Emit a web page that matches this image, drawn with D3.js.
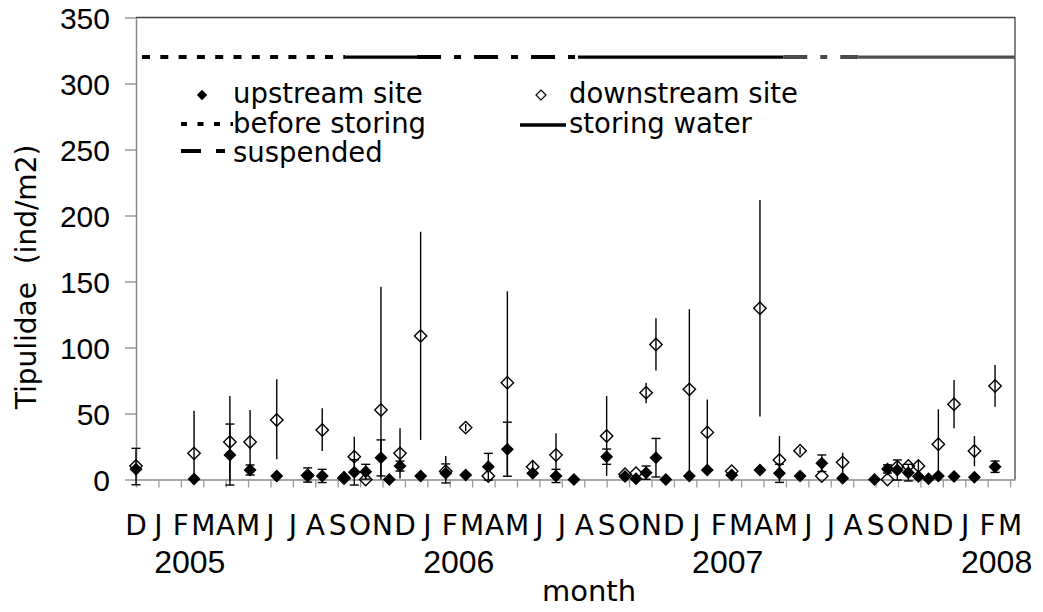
<!DOCTYPE html>
<html>
<head>
<meta charset="utf-8">
<script src="https://cdn.jsdelivr.net/npm/d3@7"></script>
<style>
  html, body { margin: 0; padding: 0; background: #fff; }
  svg { display: block; }
</style>
</head>
<body>
<svg id="chart" width="1043" height="612"></svg>
<script>
// ---- data (x = months since 1 Dec 2004, fractional) ----
const monthLetters = ["D","J","F","M","A","M","J","J","A","S","O","N",
                      "D","J","F","M","A","M","J","J","A","S","O","N",
                      "D","J","F","M","A","M","J","J","A","S","O","N",
                      "D","J","F","M"];
const yearLabels = ["2005","2006","2007","2008"];
const yTicks = [0, 50, 100, 150, 200, 250, 300, 350];

// upstream site (filled diamonds, capped error bars)
const upMonth = [0.00, 2.59, 4.19, 5.09, 6.28, 7.66, 8.31, 9.28, 9.74, 10.25, 10.93, 11.30, 11.78, 12.70,
                 13.82, 14.71, 15.72, 16.57, 17.70, 18.74, 19.54, 21.00, 21.82, 22.31, 22.76, 23.20, 23.64,
                 24.69, 25.49, 26.58, 27.84, 28.71, 29.63, 30.60, 31.53, 32.95, 33.53, 33.97, 34.46, 34.91,
                 35.36, 35.80, 36.50, 37.41, 38.33];
const upVal   = [7.7, 0.4, 18.6, 7.2, 2.7, 3.4, 2.7, 1.7, 5.4, 5.9, 16.5, 0, 10.2, 2.7,
                 4.7, 3.4, 9.7, 22.9, 4.7, 2.7, 0, 17.3, 2.2, 0.5, 5.2, 16.5, 0,
                 2.7, 7.2, 3.4, 7.2, 4.7, 2.7, 12.3, 1.0, 0, 8.0, 7.2, 5.2, 2.2,
                 0.5, 2.7, 2.2, 1.7, 9.7];
const upLo    = [-4, null, -4.2, 3.4, null, -2, -2.3, null, -4.2, 0.3, 2.7, null, 6.4, null,
                 -2.6, null, -0.4, 2.5, null, -2.3, null, 11.5, null, null, 0.2, 1.9, null,
                 null, null, null, null, -2.2, null, 6.0, null, null, 4.9, -0.4, -1.1, null,
                 null, null, null, null, 5.4];
const upHi    = [23.6, null, 42.0, 11.0, null, 8.8, 7.7, null, 15.0, 11.5, 30.0, null, 14.0, null,
                 11.8, null, 19.8, 43.4, null, 7.7, null, 23.1, null, null, 10.2, 31.1, null,
                 null, null, null, null, 11.6, null, 18.6, null, null, 11.1, 14.8, 11.5, null,
                 null, null, null, null, 14.0];

// downstream site (open diamonds, uncapped error bars)
const downMonth = [0.00, 2.59, 4.19, 5.09, 6.28, 7.66, 8.31, 9.28, 9.74, 10.25, 10.93, 11.78, 12.70,
                   13.82, 14.71, 15.72, 16.57, 17.70, 18.74, 21.00, 21.82, 22.31, 22.76, 23.20, 24.69,
                   25.49, 26.58, 27.84, 28.71, 29.63, 30.60, 31.53, 33.53, 33.97, 34.46, 34.91, 35.80,
                   36.50, 37.41, 38.33];
const downVal   = [10.2, 19.8, 28.4, 28.4, 45.1, 3.0, 37.5, 1.0, 17.3, 0, 52.7, 19.8, 108.8,
                   6.3, 39.3, 2.7, 73.3, 9.7, 18.6, 33.0, 4.0, 4.7, 65.8, 102.3, 68.3,
                   35.7, 6.3, 129.7, 14.8, 21.8, 2.7, 13.0, 0, 9.7, 10.2, 10.2, 26.7,
                   57.0, 21.6, 70.8];
const downLo    = [null, 0, 0, 4.0, 15.3, null, 21.6, null, 2.3, null, 0, 0.8, 30.0,
                   0, 36.5, null, 3.0, 4.7, 2.2, 2.7, null, null, 57.7, 82.5, 5.0,
                   10.7, null, 47.7, 0, 19.0, null, 5.7, null, 5.0, null, 6.0, 0.2,
                   38.8, 10.0, 55.2];
const downHi    = [null, 52.1, 63.3, 52.7, 75.9, null, 53.9, null, 32.4, null, 146.0, 38.8, 187.7,
                   17.8, 42.0, null, 142.5, 14.8, 35.0, 63.3, null, null, 73.3, 122.1, 129.0,
                   60.7, null, 211.7, 33.0, 24.5, null, 20.3, null, 14.0, null, 14.0, 53.2,
                   75.4, 33.0, 86.7];

// reservoir phases drawn as a line at 320
const phaseLevel = 320;
const phaseType  = ["before", "storing", "suspended", "storing", "suspended", "storing"];
const phaseStart = [0.00, 9.33, 12.54, 19.72, 28.88, 32.23];
const phaseEnd   = [9.33, 12.54, 19.72, 28.88, 32.23, 39.22];
const phaseShade = ["#000", "#000", "#000", "#000", "#4a4a4a", "#4f4f4f"];

// ---- drawing ----
const svg = d3.select("#chart");
const x = d3.scaleLinear().domain([0, 39.22]).range([136, 1015]);
const y = d3.scaleLinear().domain([0, 350]).range([479.5, 17.5]);

const TEXT_FONT = "'DejaVu Sans', sans-serif";
const NUM_FONT = "'Liberation Sans', Arial, sans-serif";
const dashFor = { before: "8,10.3", storing: null, suspended: "24,13,7,13" };

function diamond(r) { return `M0,${-r}L${r},0L0,${r}L${-r},0Z`; }

// frame (top/right)
svg.append("path")
  .attr("d", `M${x(0)},${y(350)}H${x(39.22)}V${y(0)}`)
  .attr("fill", "none").attr("stroke", "#444").attr("stroke-width", 1.3);

// y axis
const yAxis = svg.append("g").attr("transform", `translate(${x(0)},0)`)
  .call(d3.axisLeft(y).tickValues(yTicks).tickSize(11).tickPadding(15).tickSizeOuter(0));
yAxis.select(".domain").attr("stroke", "#8a8a8a").attr("stroke-width", 1.5);
yAxis.selectAll(".tick line").attr("stroke", "#8a8a8a").attr("stroke-width", 1.3);
yAxis.selectAll(".tick text")
  .attr("font-family", NUM_FONT).attr("font-size", 30).attr("fill", "#000")
  .attr("dy", "0.36em");

// x axis (month ticks)
const xAxis = svg.append("g").attr("transform", `translate(0,${y(0)})`)
  .call(d3.axisBottom(x).tickValues(d3.range(monthLetters.length)).tickSize(8)
        .tickFormat("").tickSizeOuter(0));
xAxis.select(".domain").attr("stroke", "#8a8a8a").attr("stroke-width", 1.5);
xAxis.selectAll(".tick line").attr("stroke", "#9a9a9a").attr("stroke-width", 1.3);

// month letters
svg.append("g").selectAll("text").data(monthLetters).join("text")
  .attr("x", (d, i) => x(i)).attr("y", 535)
  .attr("text-anchor", "middle")
  .attr("font-family", TEXT_FONT).attr("font-size", 28).attr("fill", "#000")
  .text(d => d);

// year labels (centred ~ mid February of each year)
svg.append("g").selectAll("text").data(yearLabels).join("text")
  .attr("x", (d, i) => x(1 + 12 * i + 1.4)).attr("y", 573)
  .attr("text-anchor", "middle")
  .attr("font-family", NUM_FONT).attr("font-size", 32).attr("fill", "#000")
  .text(d => d);

// axis titles
svg.append("text").attr("x", 589).attr("y", 601).attr("text-anchor", "middle")
  .attr("font-family", TEXT_FONT).attr("font-size", 29).attr("fill", "#000")
  .text("month");
svg.append("text").attr("transform", "translate(36,277) rotate(-90)")
  .attr("text-anchor", "middle")
  .attr("font-family", TEXT_FONT).attr("font-size", 28).attr("fill", "#000")
  .attr("xml:space", "preserve")
  .text("Tipulidae  (ind/m2)");

// phase line
const phases = phaseType.map((t, i) => ({ t, s: phaseStart[i], e: phaseEnd[i], c: phaseShade[i] }));
svg.append("g").selectAll("line").data(phases).join("line")
  .attr("x1", d => x(d.s)).attr("x2", d => x(d.e))
  .attr("y1", y(phaseLevel)).attr("y2", y(phaseLevel))
  .attr("stroke", d => d.c).attr("stroke-width", d => d.t === "storing" ? 3.4 : 4)
  .attr("stroke-dasharray", d => dashFor[d.t])
  .attr("stroke-dashoffset", d => d.t === "before" ? 12.3 : 0);

// downstream error bars + markers
const down = downMonth.map((m, i) => ({ m, v: downVal[i], lo: downLo[i], hi: downHi[i] }));
svg.append("g").selectAll("line").data(down.filter(d => d.hi !== null)).join("line")
  .attr("x1", d => x(d.m)).attr("x2", d => x(d.m))
  .attr("y1", d => y(d.lo)).attr("y2", d => y(d.hi))
  .attr("stroke", "#000").attr("stroke-width", 1.4);
svg.append("g").selectAll("path").data(down).join("path")
  .attr("transform", d => `translate(${x(d.m)},${y(d.v)})`)
  .attr("d", diamond(6.2))
  .attr("fill", "none").attr("stroke", "#000").attr("stroke-width", 1.4);

// upstream error bars + markers
const up = upMonth.map((m, i) => ({ m, v: upVal[i], lo: upLo[i], hi: upHi[i] }));
const upBars = svg.append("g").selectAll("g").data(up.filter(d => d.hi !== null)).join("g");
upBars.append("line")
  .attr("x1", d => x(d.m)).attr("x2", d => x(d.m))
  .attr("y1", d => y(d.lo)).attr("y2", d => y(d.hi))
  .attr("stroke", "#000").attr("stroke-width", 1.4);
upBars.selectAll("line.cap").data(d => [d.lo, d.hi].map(v => ({ m: d.m, v }))).join("line")
  .attr("class", "cap")
  .attr("x1", d => x(d.m) - 4.5).attr("x2", d => x(d.m) + 4.5)
  .attr("y1", d => y(d.v)).attr("y2", d => y(d.v))
  .attr("stroke", "#000").attr("stroke-width", 1.4);
svg.append("g").selectAll("path").data(up).join("path")
  .attr("transform", d => `translate(${x(d.m)},${y(d.v)})`)
  .attr("d", diamond(6.5))
  .attr("fill", "#000");

// legend
const lg = svg.append("g").attr("font-family", TEXT_FONT).attr("font-size", 27.5).attr("fill", "#000");
lg.append("path").attr("transform", "translate(202,95)").attr("d", diamond(5.2)).attr("fill", "#000");
lg.append("text").attr("x", 233).attr("y", 103).text("upstream site");
lg.append("path").attr("transform", "translate(541,95)").attr("d", diamond(5)).attr("fill", "none")
  .attr("stroke", "#000").attr("stroke-width", 1.2);
lg.append("text").attr("x", 569).attr("y", 103).text("downstream site");

lg.append("line").attr("x1", 181).attr("x2", 233).attr("y1", 124).attr("y2", 124)
  .attr("stroke", "#000").attr("stroke-width", 4).attr("stroke-dasharray", "6,10.5");
lg.append("text").attr("x", 233).attr("y", 133).text("before storing");
lg.append("line").attr("x1", 520).attr("x2", 566).attr("y1", 125).attr("y2", 125)
  .attr("stroke", "#000").attr("stroke-width", 3.4);
lg.append("text").attr("x", 569).attr("y", 133).text("storing water");

lg.append("line").attr("x1", 181).attr("x2", 201).attr("y1", 151).attr("y2", 151)
  .attr("stroke", "#000").attr("stroke-width", 4);
lg.append("line").attr("x1", 216).attr("x2", 225).attr("y1", 151).attr("y2", 151)
  .attr("stroke", "#000").attr("stroke-width", 4);
lg.append("text").attr("x", 233).attr("y", 162).text("suspended");
</script>
</body>
</html>
